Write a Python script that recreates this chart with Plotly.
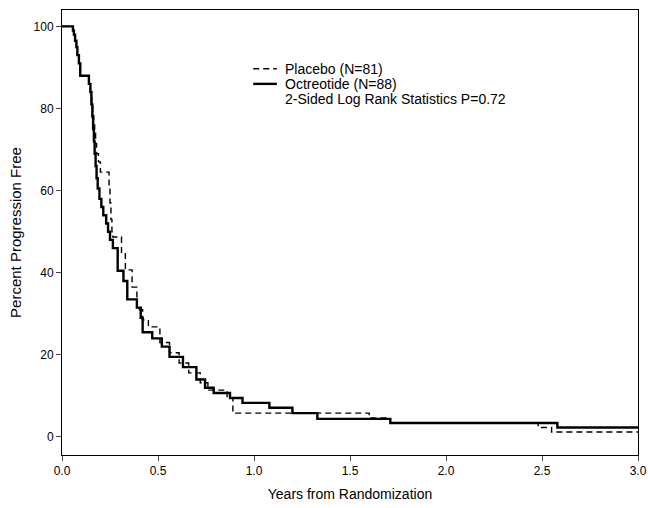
import plotly.graph_objects as go

# Kaplan-Meier step data (years, percent progression free)
octreotide_years = [0, 0.057, 0.062, 0.068, 0.075, 0.080, 0.088, 0.095, 0.14, 0.148, 0.153, 0.158,
                    0.162, 0.166, 0.170, 0.175, 0.180, 0.186, 0.195, 0.205, 0.215, 0.23, 0.24, 0.25,
                    0.265, 0.29, 0.32, 0.34, 0.39, 0.41, 0.42, 0.47, 0.52, 0.56, 0.63, 0.70, 0.745,
                    0.79, 0.875, 0.94, 1.08, 1.20, 1.33, 1.71, 2.58, 3.0]
octreotide_pct = [100, 99, 98, 96.5, 95, 93, 91, 88, 86, 84, 81, 78,
                  75, 72, 69, 66, 63, 60.5, 58, 56, 54, 52, 50, 48,
                  46, 40.5, 38, 33.5, 31.5, 29, 25.5, 24, 22, 19.5, 17, 14, 12,
                  10.7, 9.5, 8.3, 7.1, 5.8, 4.4, 3.4, 2.3, 2.3]

placebo_years = [0, 0.057, 0.062, 0.068, 0.075, 0.080, 0.088, 0.095, 0.14, 0.148, 0.155, 0.16,
                 0.165, 0.17, 0.175, 0.18, 0.19, 0.20, 0.245, 0.25, 0.255, 0.26, 0.265,
                 0.31, 0.33, 0.365, 0.39, 0.42, 0.45, 0.51, 0.56, 0.61, 0.66, 0.72, 0.76, 0.86,
                 0.89, 1.60, 1.71, 2.48, 2.55, 3.0]
placebo_pct = [100, 99, 98, 96.5, 95, 93, 91, 88, 86, 84, 81, 79,
               76, 74, 71.5, 69, 67, 64.5, 61, 57, 53, 50, 48.7,
               44.8, 40.7, 36.5, 31, 28.5, 26.8, 23, 20.5, 18, 15.6, 13.2, 11.4, 9.5,
               5.8, 4.6, 3.4, 2.3, 1.2, 1.2]

x_ticks = [0, 0.5, 1.0, 1.5, 2.0, 2.5, 3.0]
x_tick_labels = ["0.0", "0.5", "1.0", "1.5", "2.0", "2.5", "3.0"]
y_ticks = [0, 20, 40, 60, 80, 100]

legend_lines = ["Placebo (N=81)", "Octreotide (N=88)", "2-Sided Log Rank Statistics P=0.72"]

FONT = "Liberation Sans, Arial, Helvetica, sans-serif"

fig = go.Figure()
fig.add_trace(go.Scatter(x=placebo_years, y=placebo_pct, mode="lines", line_shape="hv",
                         line=dict(color="black", width=1.4, dash="6px,4px"), name="Placebo (N=81)",
                         showlegend=False))
fig.add_trace(go.Scatter(x=octreotide_years, y=octreotide_pct, mode="lines", line_shape="hv",
                         line=dict(color="black", width=2.4), name="Octreotide (N=88)",
                         showlegend=False))

# legend samples & text
ly = [0.868, 0.834, 0.800]
fig.add_shape(type="line", xref="paper", yref="paper", x0=0.332, x1=0.373, y0=ly[0], y1=ly[0],
              line=dict(color="black", width=1.4, dash="6px,4px"))
fig.add_shape(type="line", xref="paper", yref="paper", x0=0.332, x1=0.373, y0=ly[1], y1=ly[1],
              line=dict(color="black", width=2.4))
for txt, yy in zip(legend_lines, ly):
    fig.add_annotation(text=txt, xref="paper", yref="paper", x=0.384, y=yy, xanchor="left",
                       yanchor="middle", showarrow=False, font=dict(size=14, color="black", family=FONT))

fig.update_layout(
    width=648, height=508,
    margin=dict(l=62, r=10, t=10, b=53),
    paper_bgcolor="white", plot_bgcolor="white",
    font=dict(family=FONT, color="black", size=12),
    xaxis=dict(range=[0, 3.0], tickvals=x_ticks, ticktext=x_tick_labels, ticks="outside", ticklen=5,
               showline=True, linecolor="black", linewidth=1, mirror=True, showgrid=False, zeroline=False,
               automargin=False,
               title=dict(text="Years from Randomization", font=dict(size=14), standoff=11),
               tickfont=dict(size=12)),
    yaxis=dict(range=[-4.4, 104.0], tickvals=y_ticks, ticks="outside", ticklen=5,
               showline=True, linecolor="black", linewidth=1, mirror=True, showgrid=False, zeroline=False,
               automargin=False,
               title=dict(text="Percent Progression Free", font=dict(size=15), standoff=8),
               tickfont=dict(size=12)),
)

fig.write_html("out.html", config={"displayModeBar": False},
               post_script="document.body.style.margin='0px';")
